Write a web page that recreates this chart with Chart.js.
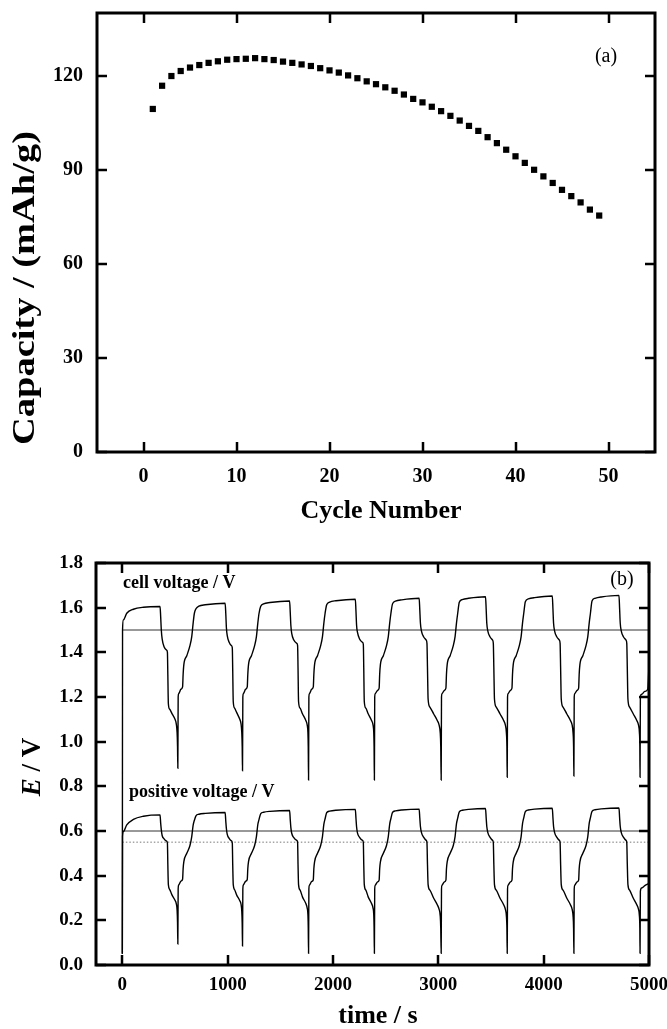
<!DOCTYPE html>
<html>
<head>
<meta charset="utf-8">
<script src="https://cdn.jsdelivr.net/npm/chart.js@4.4.0/dist/chart.umd.min.js"></script>
<style>
  html, body { margin: 0; padding: 0; background: #fff; }
  #wrap { position: relative; width: 667px; height: 1029px; }
  #capacity-chart { position: absolute; left: 0; top: 0; }
  #voltage-chart { position: absolute; left: 0; top: 535px; }
</style>
</head>
<body>
<div id="wrap">
  <canvas id="capacity-chart" width="667" height="535"></canvas>
  <canvas id="voltage-chart" width="667" height="494"></canvas>
</div>
<script>
// (a) capacity per cycle
const cycleNumber = [1, 2, 3, 4, 5, 6, 7, 8, 9, 10, 11, 12, 13, 14, 15, 16, 17, 18, 19, 20,
    21, 22, 23, 24, 25, 26, 27, 28, 29, 30, 31, 32, 33, 34, 35, 36, 37, 38, 39, 40,
    41, 42, 43, 44, 45, 46, 47, 48, 49];
const capacity = [109.4, 116.8, 119.9, 121.5, 122.6, 123.4, 124.1, 124.6, 125.1, 125.3,
    125.4, 125.6, 125.3, 125.0, 124.5, 124.1, 123.6, 123.1, 122.4, 121.7,
    121.0, 120.1, 119.2, 118.2, 117.3, 116.3, 115.2, 114.0, 112.6, 111.5,
    110.1, 108.7, 107.2, 105.7, 104.0, 102.4, 100.4, 98.5, 96.4, 94.3,
    92.2, 90.0, 87.9, 85.8, 83.6, 81.6, 79.6, 77.3, 75.4];
const cycleTicks = [0, 10, 20, 30, 40, 50];
const capacityTicks = [0, 30, 60, 90, 120];

// (b) voltage vs time, [time s, volts]
const cellVoltage = [
    [0, 0.05], [2, 1.50], [10, 1.545], [42, 1.575], [105, 1.593], [200, 1.602], [358, 1.605],
    [364, 1.56], [370, 1.50], [378, 1.46], [396, 1.425], [420, 1.41], [428, 1.40], [432, 1.30], [437, 1.17],
    [450, 1.145], [470, 1.127], [500, 1.10], [512, 1.08], [520, 1.04], [524, 0.98], [527, 0.881],
    [530, 1.20], [535, 1.215], [557, 1.235], [572, 1.245], [577, 1.30], [584, 1.345], [612, 1.385], [642, 1.43],
    [659, 1.47], [672, 1.53], [684, 1.575], [699, 1.595], [727, 1.607], [787, 1.613], [976, 1.620],
    [982, 1.575], [988, 1.51], [996, 1.475], [1014, 1.445], [1036, 1.43], [1044, 1.42], [1048, 1.32], [1053, 1.18],
    [1066, 1.15], [1086, 1.13], [1115, 1.10], [1127, 1.08], [1134, 1.04], [1138, 0.98], [1141, 0.870],
    [1144, 1.20], [1149, 1.215], [1171, 1.235], [1186, 1.245], [1191, 1.30], [1198, 1.345], [1226, 1.385], [1256, 1.43],
    [1273, 1.47], [1286, 1.53], [1298, 1.575], [1313, 1.605], [1341, 1.617], [1401, 1.623], [1588, 1.630],
    [1594, 1.58], [1600, 1.52], [1608, 1.485], [1628, 1.455], [1656, 1.44], [1664, 1.43], [1668, 1.33], [1673, 1.18],
    [1688, 1.15], [1710, 1.125], [1742, 1.095], [1755, 1.075], [1762, 1.04], [1765, 0.98], [1768, 0.828],
    [1771, 1.20], [1776, 1.215], [1798, 1.235], [1813, 1.245], [1818, 1.30], [1825, 1.345], [1853, 1.385], [1883, 1.43],
    [1900, 1.47], [1913, 1.53], [1925, 1.575], [1940, 1.613], [1968, 1.625], [2028, 1.631], [2212, 1.638],
    [2218, 1.585], [2224, 1.52], [2232, 1.49], [2252, 1.46], [2280, 1.445], [2288, 1.435], [2292, 1.33], [2297, 1.18],
    [2312, 1.15], [2334, 1.125], [2366, 1.095], [2380, 1.075], [2387, 1.04], [2390, 0.98], [2393, 0.828],
    [2396, 1.20], [2401, 1.215], [2423, 1.23], [2438, 1.24], [2443, 1.30], [2450, 1.345], [2478, 1.385], [2508, 1.43],
    [2525, 1.47], [2538, 1.53], [2550, 1.575], [2565, 1.617], [2593, 1.629], [2653, 1.635], [2818, 1.642],
    [2824, 1.59], [2830, 1.53], [2840, 1.495], [2860, 1.47], [2885, 1.455], [2892, 1.44], [2897, 1.33], [2903, 1.19],
    [2920, 1.155], [2955, 1.125], [2990, 1.095], [3007, 1.075], [3018, 1.04], [3023, 0.98], [3027, 0.828],
    [3030, 1.20], [3035, 1.215], [3057, 1.23], [3072, 1.24], [3077, 1.30], [3084, 1.345], [3112, 1.385], [3142, 1.43],
    [3159, 1.47], [3172, 1.53], [3184, 1.575], [3199, 1.624], [3227, 1.636], [3287, 1.642], [3448, 1.649],
    [3454, 1.595], [3460, 1.53], [3470, 1.495], [3490, 1.47], [3515, 1.455], [3522, 1.44], [3527, 1.33], [3533, 1.19],
    [3550, 1.155], [3585, 1.125], [3620, 1.095], [3636, 1.075], [3646, 1.04], [3651, 0.98], [3654, 0.841],
    [3657, 1.20], [3662, 1.215], [3684, 1.23], [3699, 1.24], [3704, 1.30], [3711, 1.345], [3739, 1.385], [3769, 1.43],
    [3786, 1.47], [3799, 1.53], [3811, 1.575], [3826, 1.627], [3854, 1.639], [3914, 1.645], [4082, 1.652],
    [4088, 1.595], [4094, 1.53], [4104, 1.495], [4124, 1.47], [4149, 1.455], [4156, 1.44], [4161, 1.33], [4167, 1.19],
    [4184, 1.155], [4219, 1.125], [4254, 1.095], [4270, 1.075], [4279, 1.04], [4284, 0.98], [4287, 0.846],
    [4290, 1.20], [4295, 1.215], [4317, 1.23], [4332, 1.24], [4337, 1.30], [4344, 1.345], [4372, 1.385], [4402, 1.43],
    [4419, 1.47], [4432, 1.53], [4444, 1.575], [4459, 1.63], [4487, 1.642], [4547, 1.648], [4715, 1.655],
    [4721, 1.595], [4727, 1.53], [4737, 1.495], [4757, 1.47], [4782, 1.455], [4789, 1.44], [4794, 1.33], [4800, 1.19],
    [4816, 1.155], [4850, 1.125], [4884, 1.095], [4900, 1.075], [4909, 1.04], [4913, 0.98], [4915, 0.841],
    [4918, 1.20], [4930, 1.212], [4960, 1.225], [4988, 1.235], [4996, 1.30], [5000, 1.35]
];
const positiveVoltage = [
    [0, 0.05], [2, 0.575], [10, 0.597], [42, 0.627], [105, 0.652], [200, 0.666], [358, 0.672],
    [364, 0.635], [370, 0.605], [378, 0.58], [396, 0.565], [420, 0.555], [428, 0.545], [432, 0.45], [437, 0.36],
    [450, 0.338], [470, 0.315], [500, 0.29], [512, 0.275], [520, 0.245], [524, 0.19], [527, 0.094],
    [530, 0.34], [535, 0.358], [557, 0.376], [572, 0.384], [577, 0.43], [584, 0.463], [612, 0.50], [642, 0.535],
    [659, 0.575], [672, 0.625], [684, 0.648], [699, 0.668], [727, 0.675], [787, 0.679], [976, 0.683],
    [982, 0.645], [988, 0.61], [996, 0.585], [1014, 0.567], [1036, 0.556], [1044, 0.546], [1048, 0.45], [1053, 0.36],
    [1066, 0.337], [1086, 0.313], [1115, 0.288], [1127, 0.272], [1134, 0.24], [1138, 0.185], [1141, 0.085],
    [1144, 0.34], [1149, 0.358], [1171, 0.375], [1186, 0.383], [1191, 0.43], [1198, 0.463], [1226, 0.50], [1256, 0.535],
    [1273, 0.575], [1286, 0.628], [1298, 0.652], [1313, 0.677], [1341, 0.684], [1401, 0.688], [1588, 0.692],
    [1594, 0.652], [1600, 0.615], [1608, 0.59], [1628, 0.57], [1656, 0.558], [1664, 0.548], [1668, 0.45], [1673, 0.36],
    [1688, 0.335], [1710, 0.305], [1742, 0.275], [1755, 0.255], [1762, 0.225], [1765, 0.17], [1768, 0.052],
    [1771, 0.34], [1776, 0.357], [1798, 0.374], [1813, 0.382], [1818, 0.43], [1825, 0.462], [1853, 0.50], [1883, 0.535],
    [1900, 0.575], [1913, 0.63], [1925, 0.655], [1940, 0.682], [1968, 0.689], [2028, 0.693], [2212, 0.697],
    [2218, 0.657], [2224, 0.618], [2232, 0.592], [2252, 0.572], [2280, 0.558], [2288, 0.548], [2292, 0.45], [2297, 0.36],
    [2312, 0.335], [2334, 0.305], [2366, 0.275], [2380, 0.255], [2387, 0.225], [2390, 0.17], [2393, 0.052],
    [2396, 0.34], [2401, 0.357], [2423, 0.372], [2438, 0.38], [2443, 0.43], [2450, 0.462], [2478, 0.50], [2508, 0.535],
    [2525, 0.575], [2538, 0.63], [2550, 0.656], [2565, 0.683], [2593, 0.690], [2653, 0.694], [2818, 0.698],
    [2824, 0.658], [2830, 0.62], [2840, 0.593], [2860, 0.573], [2885, 0.558], [2892, 0.548], [2897, 0.45], [2903, 0.36],
    [2920, 0.335], [2955, 0.30], [2990, 0.27], [3007, 0.25], [3018, 0.22], [3023, 0.165], [3027, 0.052],
    [3030, 0.34], [3035, 0.357], [3057, 0.372], [3072, 0.38], [3077, 0.43], [3084, 0.462], [3112, 0.50], [3142, 0.535],
    [3159, 0.575], [3172, 0.632], [3184, 0.658], [3199, 0.686], [3227, 0.693], [3287, 0.697], [3448, 0.701],
    [3454, 0.66], [3460, 0.62], [3470, 0.593], [3490, 0.573], [3515, 0.558], [3522, 0.548], [3527, 0.45], [3533, 0.36],
    [3550, 0.335], [3585, 0.30], [3620, 0.27], [3636, 0.25], [3646, 0.22], [3651, 0.165], [3654, 0.052],
    [3657, 0.34], [3662, 0.357], [3684, 0.372], [3699, 0.38], [3704, 0.43], [3711, 0.462], [3739, 0.50], [3769, 0.535],
    [3786, 0.575], [3799, 0.632], [3811, 0.659], [3826, 0.687], [3854, 0.694], [3914, 0.698], [4082, 0.702],
    [4088, 0.66], [4094, 0.62], [4104, 0.593], [4124, 0.573], [4149, 0.558], [4156, 0.548], [4161, 0.45], [4167, 0.36],
    [4184, 0.335], [4219, 0.30], [4254, 0.27], [4270, 0.25], [4279, 0.22], [4284, 0.165], [4287, 0.052],
    [4290, 0.34], [4295, 0.357], [4317, 0.372], [4332, 0.38], [4337, 0.43], [4344, 0.462], [4372, 0.50], [4402, 0.535],
    [4419, 0.575], [4432, 0.633], [4444, 0.66], [4459, 0.688], [4487, 0.695], [4547, 0.699], [4715, 0.703],
    [4721, 0.66], [4727, 0.62], [4737, 0.593], [4757, 0.573], [4782, 0.558], [4789, 0.548], [4794, 0.45], [4800, 0.36],
    [4816, 0.335], [4850, 0.30], [4884, 0.27], [4900, 0.25], [4909, 0.22], [4913, 0.165], [4915, 0.052],
    [4918, 0.33], [4930, 0.345], [4960, 0.355], [5000, 0.365]
];
const cellCutoff = [[0, 1.5], [5000, 1.5]];
const positiveCutoff = [[0, 0.6], [5000, 0.6]];
const positiveRest = [[0, 0.55], [5000, 0.55]];
const timeTicks = [0, 1000, 2000, 3000, 4000, 5000];
const voltageTicks = [0, 0.2, 0.4, 0.6, 0.8, 1.0, 1.2, 1.4, 1.6, 1.8];

const SERIF = "'Liberation Serif', 'Times New Roman', serif";

// box around the plot with ticks pointing inwards on all four sides
const framePlugin = {
    id: 'frame',
    afterDatasetsDraw(chart) {
        const { ctx, chartArea: a, scales } = chart;
        const len = 10;
        ctx.save();
        ctx.strokeStyle = '#000';
        ctx.lineWidth = 2.5;
        ctx.beginPath();
        for (const t of scales.x.ticks) {
            const px = Math.round(scales.x.getPixelForValue(t.value));
            ctx.moveTo(px, a.bottom); ctx.lineTo(px, a.bottom - len);
            ctx.moveTo(px, a.top); ctx.lineTo(px, a.top + len);
        }
        for (const t of scales.y.ticks) {
            const py = Math.round(scales.y.getPixelForValue(t.value));
            ctx.moveTo(a.left, py); ctx.lineTo(a.left + len, py);
            ctx.moveTo(a.right, py); ctx.lineTo(a.right - len, py);
        }
        ctx.stroke();
        ctx.lineWidth = 3;
        ctx.strokeRect(a.left, a.top, a.right - a.left, a.bottom - a.top);
        ctx.restore();
    }
};

// free text: panel letters, curve names, axis titles
const makeNotes = (items) => ({
    id: 'notes',
    afterDraw(chart) {
        const ctx = chart.ctx;
        for (const n of items) {
            ctx.save();
            ctx.translate(n.x, n.y);
            if (n.rotate) ctx.rotate(n.rotate * Math.PI / 180);
            if (n.stretch) ctx.scale(n.stretch, 1);
            ctx.fillStyle = '#000';
            ctx.textAlign = 'left';
            ctx.textBaseline = n.baseline || 'alphabetic';
            let total = 0;
            for (const p of n.parts) { ctx.font = p.font; total += ctx.measureText(p.text).width; }
            let x = n.align === 'center' ? -total / 2 : 0;
            for (const p of n.parts) {
                ctx.font = p.font;
                ctx.fillText(p.text, x, 0);
                x += ctx.measureText(p.text).width;
            }
            ctx.restore();
        }
    }
});

const setTicks = (values) => (scale) => { scale.ticks = values.map(v => ({ value: v })); };
// fixed axis boxes so the plot frame lands where it should
const fixX = (h) => (s) => { s.height = h; s.paddingLeft = 0; s.paddingRight = 0; };
const fixY = (w) => (s) => { s.width = w; s.paddingTop = 0; s.paddingBottom = 0; };
const hiddenGrid = { display: false, drawTicks: false };

new Chart(document.getElementById('capacity-chart'), {
    type: 'scatter',
    data: {
        datasets: [{
            data: cycleNumber.map((c, i) => ({ x: c, y: capacity[i] })),
            pointStyle: 'rect',
            pointRadius: 4.4,
            backgroundColor: '#000',
            borderWidth: 0
        }]
    },
    options: {
        responsive: false,
        animation: false,
        layout: { padding: { top: 13, right: 12, left: 0, bottom: 0 }, autoPadding: false },
        plugins: { legend: { display: false }, tooltip: { enabled: false } },
        scales: {
            x: {
                type: 'linear', min: -5, max: 55,
                afterFit: fixX(535 - 452),
                afterBuildTicks: setTicks(cycleTicks),
                grid: hiddenGrid, border: { display: false },
                ticks: { color: '#000', padding: 13, maxRotation: 0, font: { family: SERIF, size: 20, weight: 'bold' }, callback: (v) => String(v) }
            },
            y: {
                type: 'linear', min: 0, max: 140,
                afterFit: fixY(97),
                afterBuildTicks: setTicks(capacityTicks),
                grid: hiddenGrid, border: { display: false },
                ticks: { color: '#000', padding: 14, font: { family: SERIF, size: 20, weight: 'bold' }, callback: (v) => String(v) }
            }
        }
    },
    plugins: [framePlugin, makeNotes([
        { x: 606, y: 62, align: 'center', parts: [{ text: '(a)', font: `20px ${SERIF}` }] },
        { x: 26, y: 288, rotate: -90, stretch: 1.24, align: 'center', baseline: 'middle',
            parts: [{ text: 'Capacity / (mAh/g)', font: `bold 31px ${SERIF}` }] },
        { x: 381, y: 511, align: 'center', baseline: 'middle',
            parts: [{ text: 'Cycle Number', font: `bold 26px ${SERIF}` }] }
    ])]
});

const curve = (data) => ({
    data, borderColor: '#000', borderWidth: 1.4, pointRadius: 0, fill: false,
    cubicInterpolationMode: 'monotone'
});

new Chart(document.getElementById('voltage-chart'), {
    type: 'line',
    data: {
        datasets: [
            curve(cellVoltage),
            curve(positiveVoltage),
            { data: cellCutoff, borderColor: '#333', borderWidth: 1, pointRadius: 0 },
            { data: positiveCutoff, borderColor: '#333', borderWidth: 1, pointRadius: 0 },
            { data: positiveRest, borderColor: '#777', borderWidth: 1, borderDash: [1.5, 2], pointRadius: 0 }
        ]
    },
    options: {
        responsive: false,
        animation: false,
        layout: { padding: { top: 28, right: 18, left: 0, bottom: 0 }, autoPadding: false },
        plugins: { legend: { display: false }, tooltip: { enabled: false } },
        scales: {
            x: {
                type: 'linear', min: -250, max: 5000,
                afterFit: fixX(494 - 430),
                afterBuildTicks: setTicks(timeTicks),
                grid: hiddenGrid, border: { display: false },
                ticks: { color: '#000', padding: 9, maxRotation: 0, font: { family: SERIF, size: 19, weight: 'bold' }, callback: (v) => String(v) }
            },
            y: {
                type: 'linear', min: 0, max: 1.8,
                afterFit: fixY(96),
                afterBuildTicks: setTicks(voltageTicks),
                grid: hiddenGrid, border: { display: false },
                ticks: { color: '#000', padding: 13, font: { family: SERIF, size: 19, weight: 'bold' }, callback: (v) => v.toFixed(1) }
            }
        }
    },
    plugins: [framePlugin, makeNotes([
        { x: 123, y: 53, parts: [{ text: 'cell voltage / V', font: `bold 18px ${SERIF}` }] },
        { x: 129, y: 262, parts: [{ text: 'positive voltage / V', font: `bold 18px ${SERIF}` }] },
        { x: 622, y: 50, align: 'center', parts: [{ text: '(b)', font: `20px ${SERIF}` }] },
        { x: 33, y: 232, rotate: -90, align: 'center', baseline: 'middle',
            parts: [{ text: 'E', font: `italic bold 27px ${SERIF}` }, { text: ' / V', font: `bold 27px ${SERIF}` }] },
        { x: 378, y: 481, align: 'center', baseline: 'middle',
            parts: [{ text: 'time / s', font: `bold 26px ${SERIF}` }] }
    ])]
});
</script>
</body>
</html>
